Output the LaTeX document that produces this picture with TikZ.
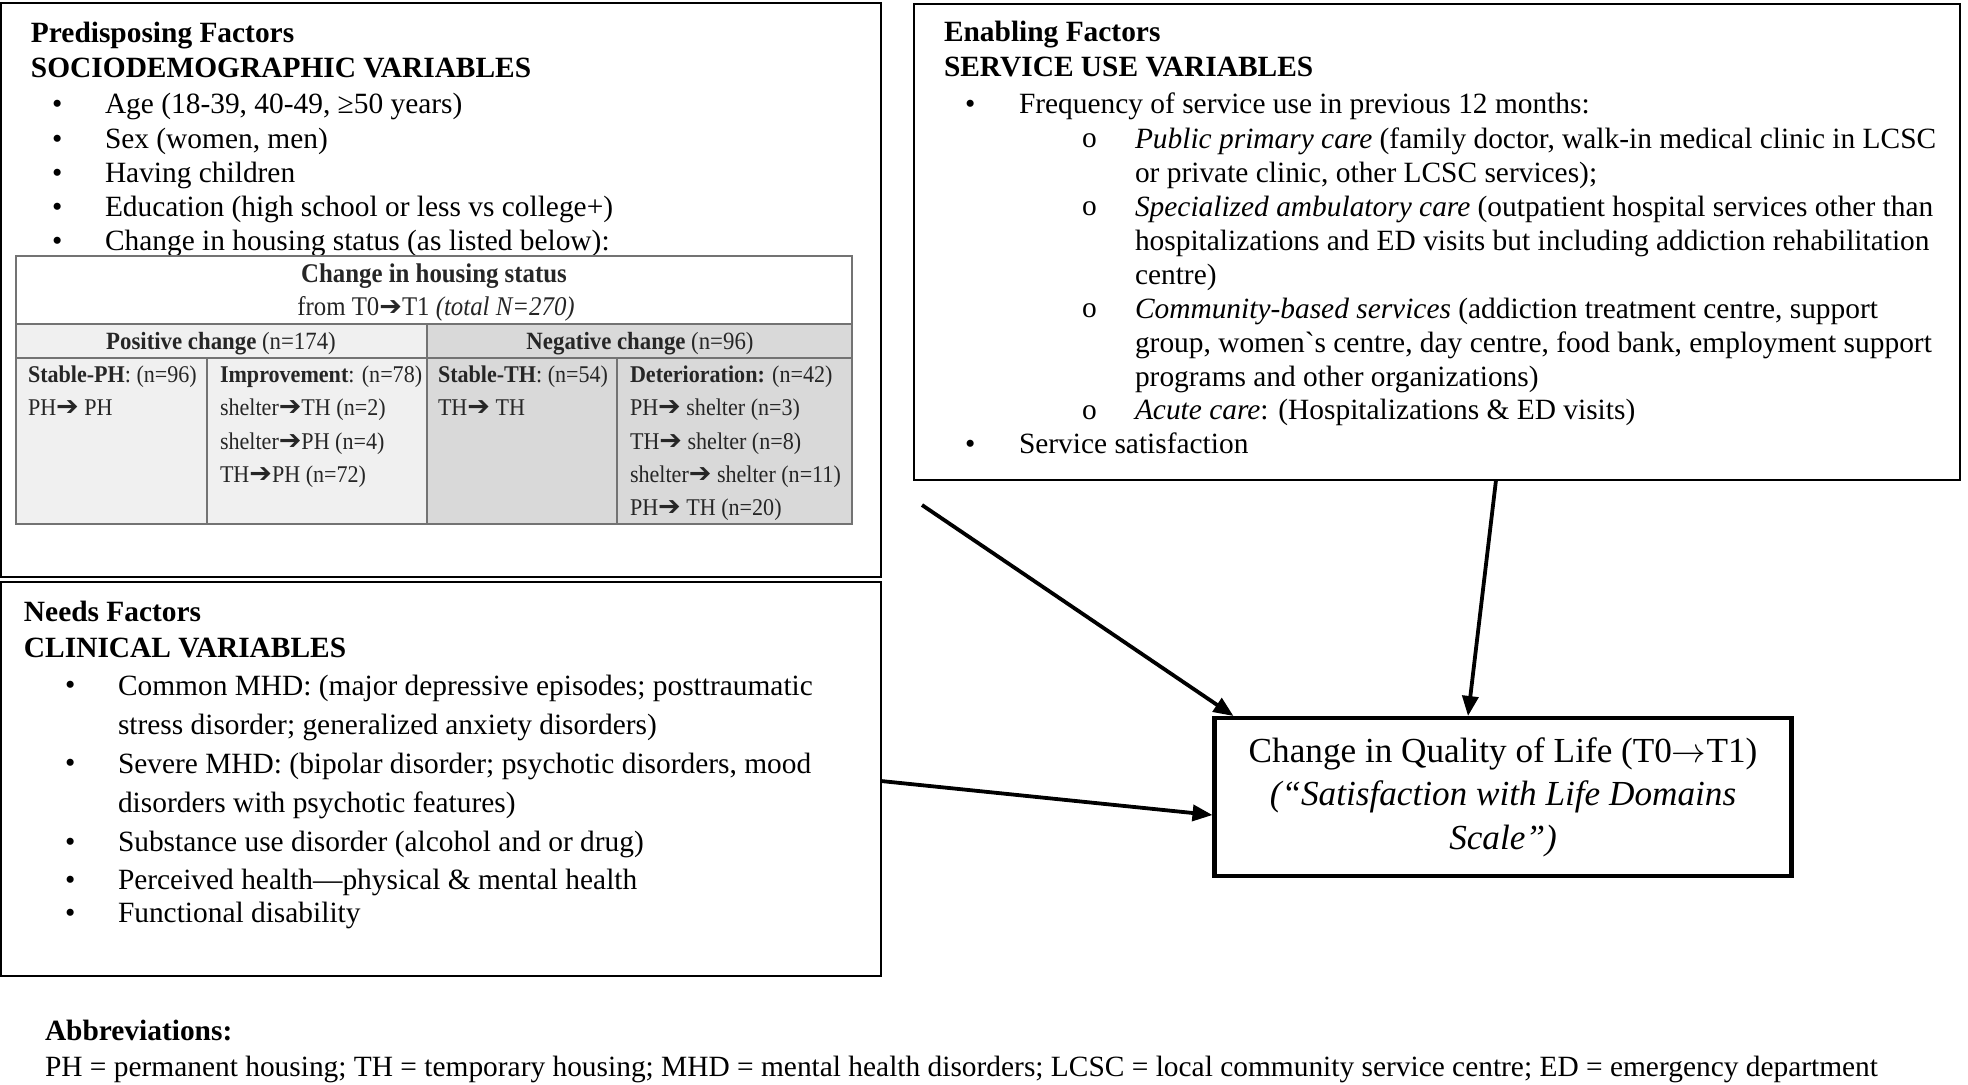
\documentclass[tikz,border=0pt]{standalone}
\usepackage{fontspec}
\setmainfont{Liberation Serif}
\newfontfamily\tabfont[FakeStretch=0.92]{Liberation Serif}
\newfontfamily\arrfont{DejaVu Sans}
\usetikzlibrary{arrows.meta,calc,fit}
\newcommand{\harr}{{\arrfont\fontsize{13.5}{10}\selectfont ➔}}
\begin{document}
\begin{tikzpicture}[x=0.5pt,y=-0.5pt,
  every node/.style={inner sep=0pt, outer sep=0pt},
  box/.style={draw, line width=1.25pt, inner sep=0pt},
  txt/.style={anchor=west, font=\fontsize{14.7}{17}\selectfont, text height=9.7pt, text depth=3.2pt},
  hd/.style={txt, font=\fontsize{14.7}{17}\selectfont\bfseries},
  mtxt/.style={anchor=north west, align=left, font=\fontsize{14.7}{17}\selectfont},
  ntxt/.style={anchor=north west, align=left, font=\fontsize{14.7}{19.5}\selectfont},
  tb/.style={anchor=west, text=black!85, font=\tabfont\fontsize{12}{14}\selectfont, text height=8pt, text depth=2.6pt},
  tbc/.style={anchor=center, text=black!85, font=\tabfont\fontsize{13.5}{16}\selectfont, text height=9pt, text depth=3pt},
  grid/.style={draw=black!55, line width=1pt},
  arr/.style={line width=1.9pt, -{Triangle[length=10pt,width=8pt]}}
]
\useasboundingbox (0,0) rectangle (1968,1084);

% ---------- Predisposing box ----------
\node[box, fit={(1,3) (881,577)}] (pre) {};
\node[hd] (pre-t1) at (31,36) {Predisposing Factors};
\node[hd] (pre-t2) at (31,71) {SOCIODEMOGRAPHIC VARIABLES};
\node[txt] (pb1) at (52,107) {•};
\node[txt] (pi1) at (105,107) {Age (18-39, 40-49, ≥50 years)};
\node[txt] (pb2) at (52,142) {•};
\node[txt] (pi2) at (105,142) {Sex (women, men)};
\node[txt] (pb3) at (52,176) {•};
\node[txt] (pi3) at (105,176) {Having children};
\node[txt] (pb4) at (52,210) {•};
\node[txt] (pi4) at (105,210) {Education (high school or less vs college+)};
\node[txt] (pb5) at (52,244) {•};
\node[txt] (pi5) at (105,244) {Change in housing status (as listed below):};

% ---------- Table ----------
\fill[white] (16,256) rectangle (852,324);
\fill[black!6] (16,324) rectangle (427,524);
\fill[black!15] (427,324) rectangle (852,524);
\draw[grid] (16,324) -- (852,324);
\draw[grid] (16,358) -- (852,358);
\draw[grid] (427,324) -- (427,524);
\draw[grid] (207,358) -- (207,524);
\draw[grid] (617,358) -- (617,524);
\node[grid, draw, fit={(16,256) (852,524)}] (tab) {};

\node[tbc, font=\tabfont\fontsize{13.5}{16}\selectfont\bfseries] (th1) at (434,276) {Change in housing status};
\node[tbc] (th2) at (436,309) {from T0\harr T1 \textit{(total N=270)}};
\node[tbc, font=\tabfont\fontsize{12.4}{14}\selectfont] (pos) at (221,343) {\textbf{Positive change} (n=174)};
\node[tbc, font=\tabfont\fontsize{12.4}{14}\selectfont] (neg) at (640,343) {\textbf{Negative change} (n=96)};

\node[tb] (c1a) at (28,377) {\textbf{Stable-PH}: (n=96)};
\node[tb] (c1b) at (28,410) {PH\harr\ PH};
\node[tb] (c2a) at (220,377) {\textbf{Improvement}: (n=78)};
\node[tb] (c2b) at (220,410) {shelter\harr TH (n=2)};
\node[tb] (c2c) at (220,444) {shelter\harr PH (n=4)};
\node[tb] (c2d) at (220,477) {TH\harr PH (n=72)};
\node[tb] (c3a) at (438,377) {\textbf{Stable-TH}: (n=54)};
\node[tb] (c3b) at (438,410) {TH\harr\ TH};
\node[tb] (c4a) at (630,377) {\textbf{Deterioration:} (n=42)};
\node[tb] (c4b) at (630,410) {PH\harr\ shelter (n=3)};
\node[tb] (c4c) at (630,444) {TH\harr\ shelter (n=8)};
\node[tb] (c4d) at (630,477) {shelter\harr\ shelter (n=11)};
\node[tb] (c4e) at (630,510) {PH\harr\ TH (n=20)};

% ---------- Enabling box ----------
\node[box, fit={(914,4) (1960,480)}] (ena) {};
\node[hd] (ena-t1) at (944,35) {Enabling Factors};
\node[hd] (ena-t2) at (944,70) {SERVICE USE VARIABLES};
\node[txt] (eb1) at (965,107) {•};
\node[txt] (ei1) at (1019,107) {Frequency of service use in previous 12 months:};
\node[txt] (eo1) at (1082,141) {o};
\node[mtxt] (es1) at (1135,128) {\textit{Public primary care} (family doctor, walk-in medical clinic in LCSC\\or private clinic, other LCSC services);};
\node[txt] (eo2) at (1082,209) {o};
\node[mtxt] (es2) at (1135,196) {\textit{Specialized ambulatory care} (outpatient hospital services other than\\hospitalizations and ED visits but including addiction rehabilitation\\centre)};
\node[txt] (eo3) at (1082,311) {o};
\node[mtxt] (es3) at (1135,298) {\textit{Community-based services} (addiction treatment centre, support\\group, women\textasciigrave s centre, day centre, food bank, employment support\\programs and other organizations)};
\node[txt] (eo4) at (1082,413) {o};
\node[txt] (es4) at (1135,413) {\textit{Acute care}: (Hospitalizations \& ED visits)};
\node[txt] (eb2) at (965,447) {•};
\node[txt] (ei2) at (1019,447) {Service satisfaction};

% ---------- Needs box ----------
\node[box, fit={(1,582) (881,976)}] (need) {};
\node[hd] (need-t1) at (24,615) {Needs Factors};
\node[hd] (need-t2) at (24,651) {CLINICAL VARIABLES};
\node[txt] (nb1) at (65,688) {•};
\node[ntxt] (ni1) at (118,675) {Common MHD: (major depressive episodes; posttraumatic\\stress disorder; generalized anxiety disorders)};
\node[txt] (nb2) at (65,766) {•};
\node[ntxt] (ni2) at (118,753) {Severe MHD: (bipolar disorder; psychotic disorders, mood\\disorders with psychotic features)};
\node[txt] (nb3) at (65,845) {•};
\node[txt] (ni3) at (118,845) {Substance use disorder (alcohol and or drug)};
\node[txt] (nb4) at (65,883) {•};
\node[txt] (ni4) at (118,883) {Perceived health—physical \& mental health};
\node[txt] (nb5) at (65,916) {•};
\node[txt] (ni5) at (118,916) {Functional disability};

% ---------- Outcome ----------
\node[draw, line width=2.2pt, minimum width=288.5pt, minimum height=79pt, align=center,
      font=\fontsize{17.6}{21.8}\selectfont] (out) at (1503,797)
  {Change in Quality of Life (T0$\rightarrow$T1)\\\textit{(“Satisfaction with Life Domains}\\\textit{Scale”)}};

% ---------- Connectors ----------
\coordinate (a1) at (922,505);
\coordinate (x2s) at (1496,0);
\coordinate (x2t) at (1468,0);
\coordinate (y3s) at (0,781);
\coordinate (y3t) at (0,815);
\draw[arr] (a1) -- ($(out.north west)+(19,-2)$);
\draw[arr] (ena.south -| x2s) -- ($(out.north -| x2t)+(0,-2)$);
\draw[arr] (need.east |- y3s) -- ($(out.west |- y3t)+(-2,0)$);

% ---------- Abbreviations ----------
\node[hd] (ab1) at (45,1034) {Abbreviations:};
\node[txt, font=\fontsize{14.7}{17}\selectfont] (ab2) at (45,1070) {PH = permanent housing; TH = temporary housing; MHD = mental health disorders; LCSC = local community service centre; ED = emergency department};
\end{tikzpicture}
\end{document}
